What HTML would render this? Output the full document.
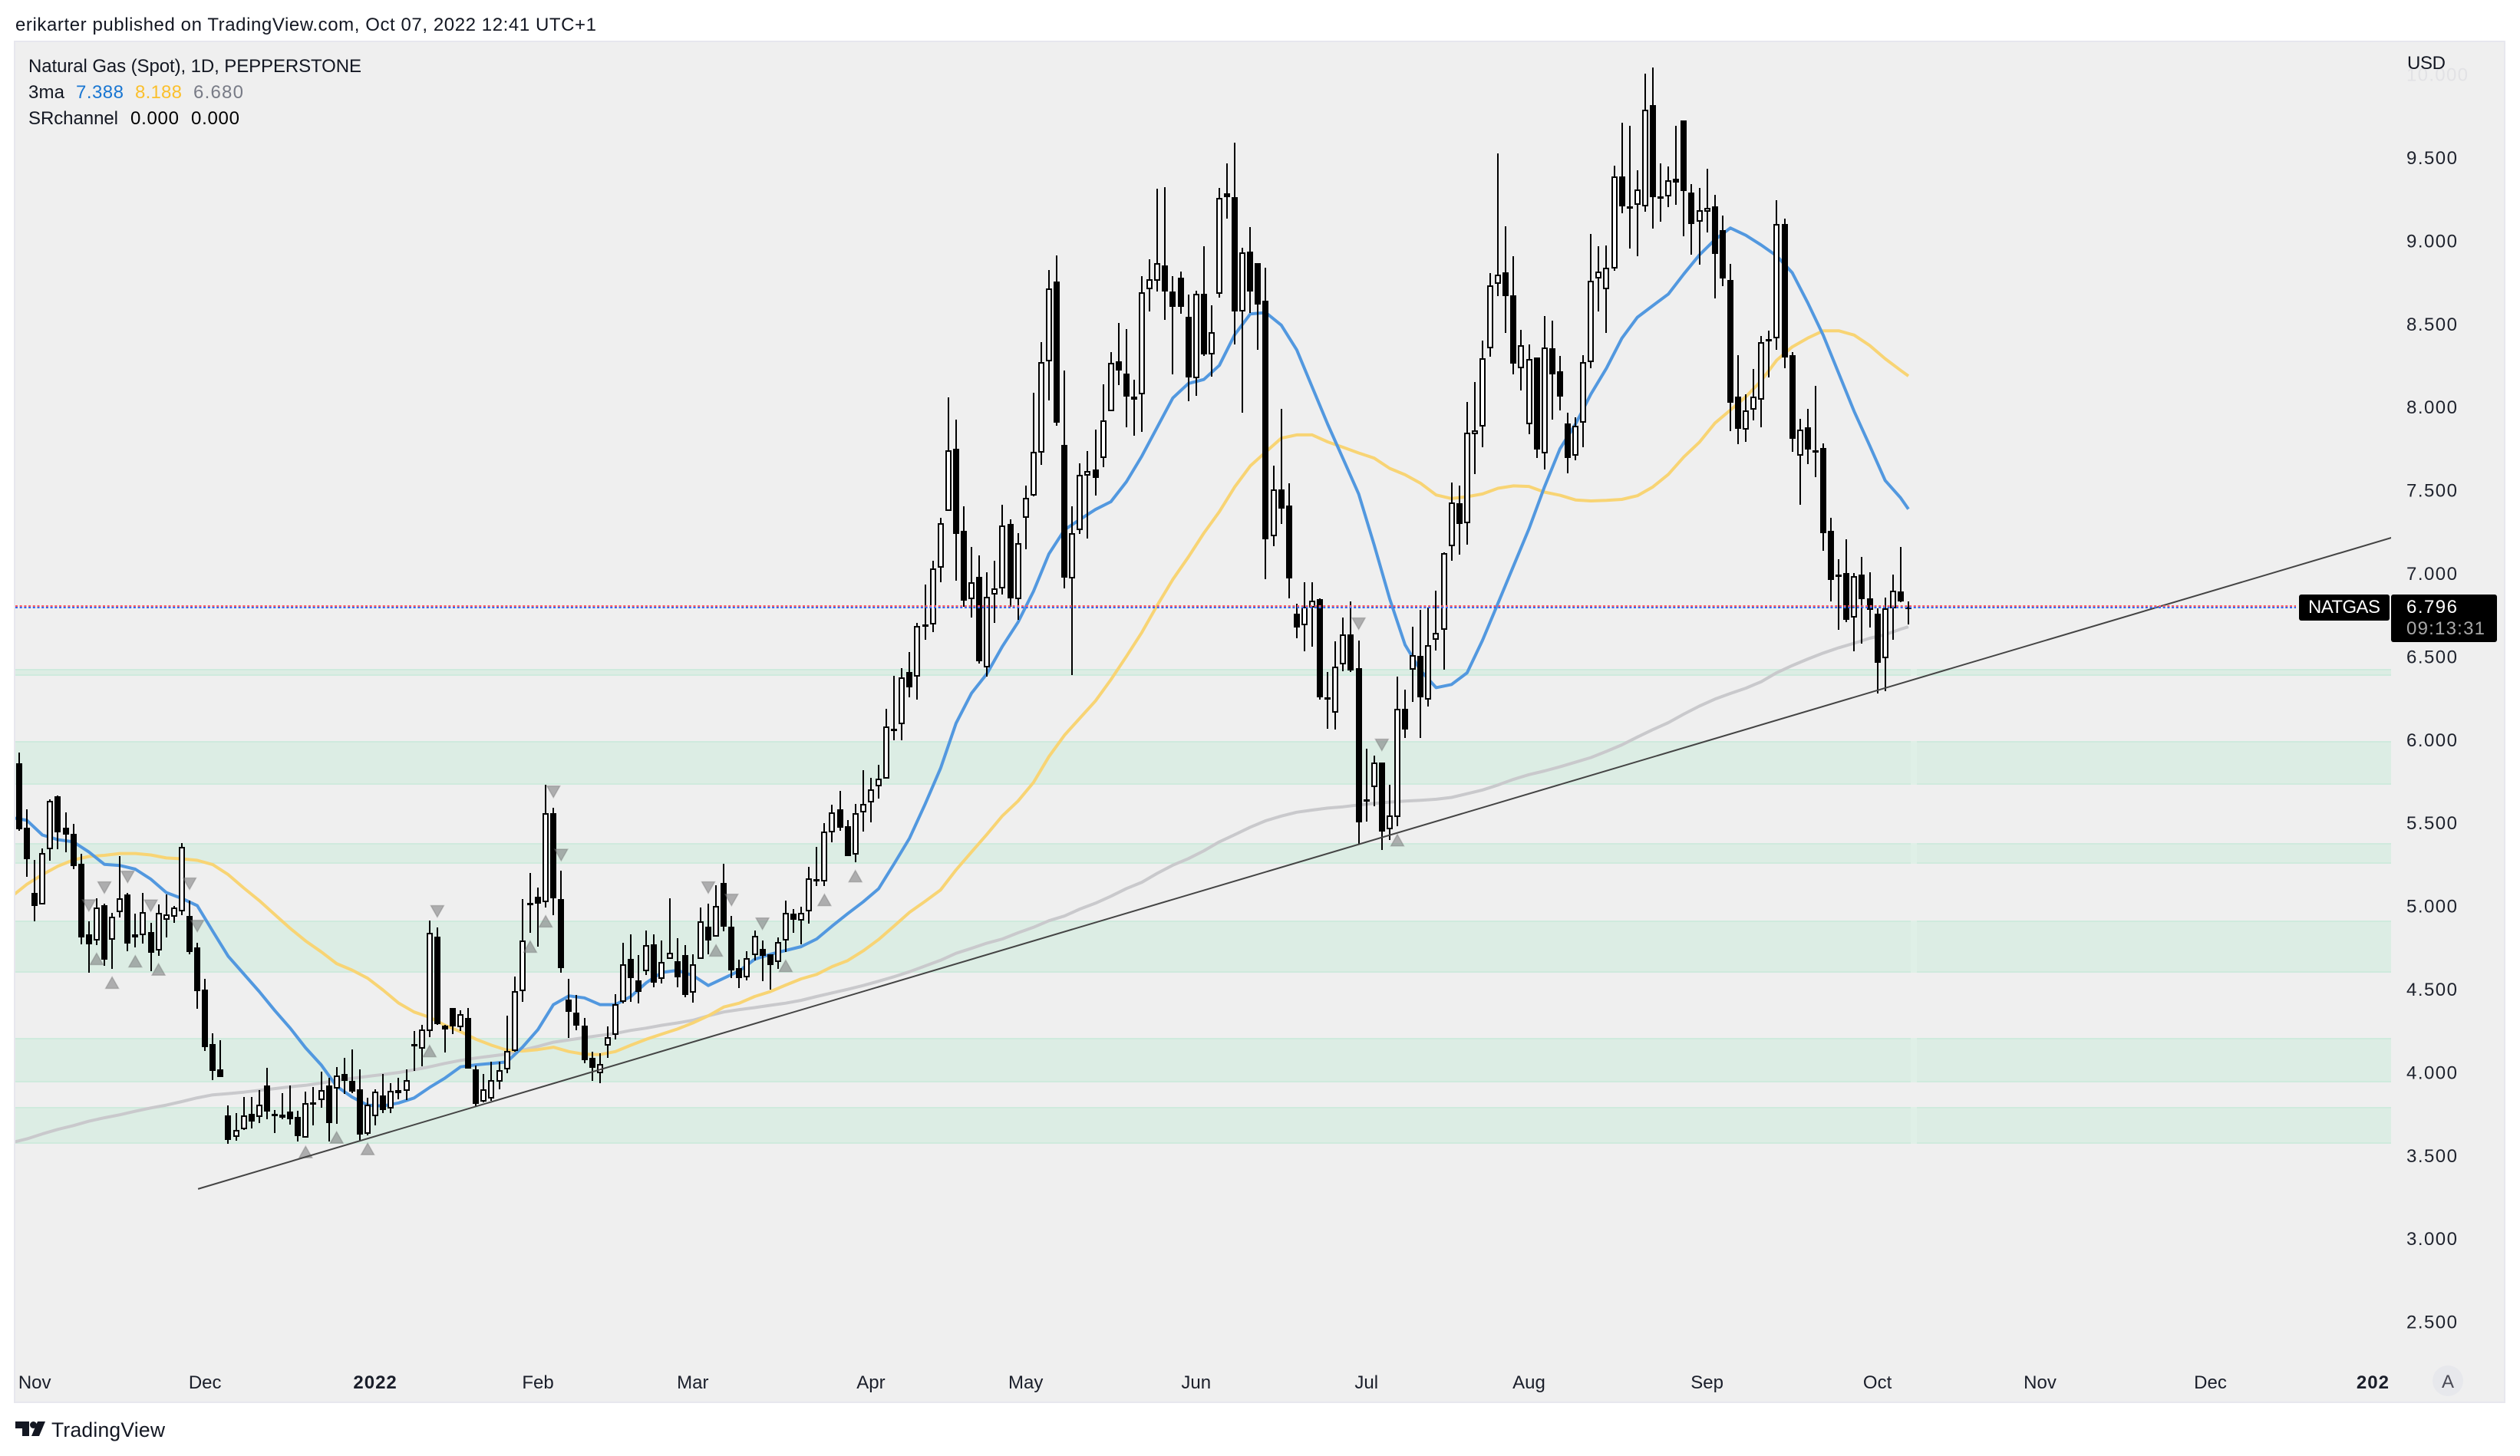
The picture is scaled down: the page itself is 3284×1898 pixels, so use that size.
<!DOCTYPE html>
<html lang="en">
<head>
<meta charset="utf-8">
<title>Natural Gas (Spot), 1D, PEPPERSTONE</title>
<style>
html,body{margin:0;padding:0;background:#fff;}
svg{display:block;font-family:"Liberation Sans",sans-serif;}
</style>
</head>
<body>
<svg id="chart" xmlns="http://www.w3.org/2000/svg" width="3284" height="1898" viewBox="0 0 3284 1898">
  <defs><clipPath id="plot-clip"><rect x="20" y="55" width="3096" height="1771"/></clipPath></defs>
  <rect x="0" y="0" width="3284" height="1898" fill="#ffffff"/>
  <text x="20" y="40" font-size="24" fill="#131722" textLength="757" lengthAdjust="spacing">erikarter published on TradingView.com, Oct 07, 2022 12:41 UTC+1</text>
  <rect x="19" y="54" width="3245" height="1774" fill="#efefef" stroke="#e7e7ee" stroke-width="2"/>
  <g id="zones" clip-path="url(#plot-clip)"></g>
  <g id="mas" clip-path="url(#plot-clip)"></g>
  <g id="candles" clip-path="url(#plot-clip)"></g>
  <g id="markers" clip-path="url(#plot-clip)"></g>
  <g id="overlays" clip-path="url(#plot-clip)"></g>
  <g id="y-axis"></g>
  <g id="x-axis"></g>

  <text x="37" y="94" font-size="24" fill="#131722" textLength="434" lengthAdjust="spacing">Natural Gas (Spot), 1D, PEPPERSTONE</text>
  <text x="37" y="128" font-size="24" fill="#131722" textLength="47" lengthAdjust="spacing">3ma</text>
  <text x="99" y="128" font-size="24" fill="#1976d2" textLength="62" lengthAdjust="spacing">7.388</text>
  <text x="176" y="128" font-size="24" fill="#fbc02d" textLength="61" lengthAdjust="spacing">8.188</text>
  <text x="252" y="128" font-size="24" fill="#787b86" textLength="65" lengthAdjust="spacing">6.680</text>
  <text x="37" y="162" font-size="24" fill="#131722" textLength="117" lengthAdjust="spacing">SRchannel</text>
  <text x="170" y="162" font-size="24" fill="#000000" textLength="63" lengthAdjust="spacing">0.000</text>
  <text x="249" y="162" font-size="24" fill="#000000" textLength="63" lengthAdjust="spacing">0.000</text>

  <text x="3137" y="90" font-size="24" fill="#131722" textLength="50" lengthAdjust="spacing">USD</text>

  <rect x="2996" y="775" width="118" height="34" rx="3" fill="#000000"/>
  <text x="3008" y="799" font-size="24" fill="#ffffff" textLength="94" lengthAdjust="spacing">NATGAS</text>
  <rect x="3116" y="775" width="138" height="62" rx="3" fill="#000000"/>
  <text x="3136" y="799" font-size="24" fill="#ffffff" textLength="66" lengthAdjust="spacing">6.796</text>
  <text x="3136" y="827" font-size="24" fill="#a8a8a8" textLength="102" lengthAdjust="spacing">09:13:31</text>

  <circle cx="3190" cy="1800" r="20" fill="#e7e8ec"/>
  <text x="3190" y="1809" font-size="24" fill="#4a4a55" text-anchor="middle">A</text>

  <g>
    <path d="M20 1853h18v19h-9v-10h-9z" fill="#131722"/>
    <circle cx="43.5" cy="1857.5" r="4.5" fill="#131722"/>
    <polygon points="49,1853 59,1853 51,1872 41,1872" fill="#131722"/>
    <text x="67" y="1873" font-size="26.5" fill="#131722" textLength="148" lengthAdjust="spacing">TradingView</text>
  </g>
</svg>

<script>
const opens = [
5.859,5.470,5.082,5.010,5.343,5.661,5.470,5.435,5.255,4.832,
4.793,5.004,4.800,4.964,5.072,4.830,4.824,4.844,4.733,4.918,
4.937,4.967,4.941,4.752,4.498,4.170,4.018,3.741,3.612,3.658,
3.751,3.734,3.921,3.751,3.730,3.765,3.734,3.608,3.806,3.834,
3.924,3.903,3.990,3.949,3.901,3.631,3.737,3.864,3.783,3.893,
3.889,4.171,4.145,4.251,4.819,4.284,4.390,4.272,4.330,4.020,
3.825,3.843,3.945,4.020,4.131,4.491,5.022,5.057,5.026,5.559,
5.043,4.438,4.358,4.284,4.090,3.997,4.161,4.228,4.426,4.681,
4.556,4.611,4.773,4.565,4.681,4.667,4.704,4.479,4.681,4.879,
4.817,5.142,4.876,4.627,4.572,4.704,4.741,4.710,4.664,4.793,
4.957,4.913,4.969,5.165,5.149,5.446,5.582,5.479,5.310,5.564,
5.626,5.719,5.767,6.069,6.094,6.409,6.380,6.693,6.693,7.035,
7.377,7.751,7.259,6.845,6.981,6.434,6.872,6.911,7.300,6.845,
7.335,7.467,7.727,8.276,8.756,7.772,6.973,7.263,7.589,7.628,
7.696,7.976,8.274,8.204,8.066,8.077,8.711,8.760,8.855,8.694,
8.777,8.546,8.176,8.680,8.318,8.684,9.287,9.265,8.575,8.938,
8.868,8.639,7.225,7.504,7.409,6.761,6.688,6.794,6.847,6.255,
6.165,6.456,6.635,6.431,5.643,5.718,5.866,5.464,5.537,6.188,
6.423,6.506,6.244,6.604,6.663,7.163,7.423,7.303,7.837,7.884,
8.354,8.740,8.810,8.675,8.237,7.898,8.298,7.725,8.357,8.217,
7.904,7.708,7.907,8.273,8.773,8.712,8.834,9.390,9.210,9.215,
9.207,9.819,9.270,9.267,9.372,9.725,9.290,9.115,9.175,9.210,
9.064,8.764,8.066,7.865,7.985,8.045,8.412,8.414,9.104,8.313,
7.708,7.878,7.742,7.755,7.256,6.992,7.002,6.735,6.992,6.850,
6.761,6.491,6.790,6.891,6.800];

const highs = [
5.922,5.582,5.276,5.349,5.643,5.665,5.564,5.493,5.313,4.907,
5.047,5.013,4.960,5.299,5.079,4.955,5.079,4.902,5.012,5.070,
5.001,5.379,5.034,4.782,4.561,4.238,4.193,3.804,3.755,3.855,
3.855,3.896,4.027,3.773,3.875,3.924,3.769,3.884,3.914,4.007,
3.967,4.034,4.090,4.138,4.021,3.847,3.901,3.990,3.938,3.967,
4.018,4.249,4.288,4.916,4.870,4.288,4.390,4.373,4.390,4.044,
3.991,4.064,4.064,4.344,4.576,5.043,5.200,5.110,5.728,5.590,
5.213,4.561,4.466,4.328,4.126,4.115,4.276,4.470,4.782,4.832,
4.704,4.856,4.832,4.793,5.047,4.807,4.764,4.711,4.990,5.013,
5.128,5.255,4.941,4.678,4.731,4.853,4.796,4.711,4.810,5.033,
4.985,4.997,5.237,5.356,5.499,5.608,5.693,5.516,5.617,5.820,
5.770,5.848,6.189,6.384,6.429,6.528,6.705,6.936,7.078,7.335,
8.060,7.928,7.405,7.162,7.109,7.006,7.076,7.412,7.325,7.245,
7.527,8.085,8.390,8.824,8.911,8.221,7.403,7.661,7.735,7.865,
8.138,8.330,8.509,8.468,8.167,8.787,8.892,9.314,9.323,8.787,
8.814,8.678,8.699,8.968,8.612,9.319,9.466,9.591,8.960,9.083,
8.868,8.840,7.647,7.991,7.541,6.817,6.948,6.948,6.850,6.409,
6.593,6.738,6.831,6.599,5.947,5.906,5.866,5.732,6.381,6.300,
6.682,6.780,6.794,6.895,7.130,7.549,7.529,8.032,8.153,8.401,
8.807,9.528,9.086,8.910,8.466,8.379,8.298,8.550,8.519,8.309,
7.968,7.940,8.312,9.044,8.969,8.974,9.452,9.710,9.692,9.425,
10.006,10.043,9.466,9.448,9.692,9.725,9.342,9.321,9.434,9.277,
9.152,8.862,8.315,8.080,8.231,8.428,8.463,9.245,9.134,8.331,
7.930,7.989,8.128,7.782,7.334,7.086,7.204,7.002,7.102,7.010,
6.792,6.857,6.992,7.161,6.834];

const lows = [
5.453,5.176,4.911,5.010,5.273,5.343,5.322,5.223,4.773,4.602,
4.766,4.643,4.623,4.934,4.731,4.752,4.775,4.609,4.703,4.814,
4.902,4.948,4.713,4.385,4.131,3.956,3.975,3.573,3.592,3.654,
3.663,3.698,3.720,3.637,3.721,3.688,3.587,3.607,3.684,3.790,
3.587,3.693,3.870,3.878,3.587,3.622,3.684,3.755,3.758,3.840,
3.834,4.011,4.037,4.214,4.288,4.122,4.231,4.249,4.023,3.799,
3.822,3.829,3.900,3.998,4.126,4.426,4.840,4.757,4.994,4.946,
4.602,4.208,4.256,4.058,3.949,3.938,4.090,4.201,4.417,4.426,
4.417,4.588,4.514,4.537,4.681,4.514,4.454,4.422,4.681,4.711,
4.817,4.849,4.567,4.510,4.554,4.676,4.549,4.500,4.623,4.726,
4.840,4.773,4.897,5.123,5.123,5.382,5.453,5.303,5.264,5.449,
5.502,5.649,5.767,5.997,5.997,6.254,6.240,6.600,6.646,6.950,
7.377,6.955,6.800,6.734,6.460,6.382,6.703,6.872,6.800,6.722,
7.146,7.463,7.655,8.042,7.887,6.913,6.388,7.239,7.212,7.469,
7.638,7.976,8.134,7.879,7.830,7.850,8.577,8.694,8.526,8.196,
8.563,8.036,8.070,8.309,8.186,8.657,9.134,8.379,7.968,8.569,
8.346,6.968,7.166,7.297,6.850,6.613,6.534,6.562,6.244,6.068,
6.062,6.411,6.409,5.370,5.509,5.601,5.340,5.400,5.481,6.012,
6.227,6.012,6.199,6.537,6.423,7.079,7.113,7.172,7.596,7.759,
8.304,8.667,8.449,8.200,8.100,7.837,7.697,7.624,7.926,7.979,
7.605,7.680,7.759,8.234,8.575,8.449,8.822,9.166,8.954,8.908,
9.177,9.074,9.117,9.205,9.217,9.030,8.919,8.857,9.053,8.654,
8.728,7.856,7.779,7.793,7.922,7.878,8.178,8.345,8.236,7.733,
7.415,7.659,7.581,7.135,6.834,6.664,6.708,6.535,6.577,6.675,
6.279,6.295,6.603,6.827,6.695];

const closes = [
5.463,5.282,5.000,5.320,5.635,5.446,5.432,5.243,4.814,4.773,
4.994,4.678,4.937,5.049,4.777,4.812,4.966,4.722,4.959,4.950,
4.990,5.357,4.726,4.491,4.154,4.011,3.975,3.596,3.656,3.743,
3.707,3.808,3.767,3.743,3.748,3.721,3.617,3.817,3.822,3.896,
3.697,3.983,3.949,3.884,3.628,3.808,3.886,3.776,3.891,3.877,
3.956,4.163,4.260,4.840,4.291,4.258,4.276,4.350,4.023,3.811,
3.900,3.953,4.016,4.131,4.491,4.796,5.012,5.017,5.559,5.047,
4.630,4.367,4.284,4.076,4.028,4.053,4.214,4.411,4.651,4.567,
4.484,4.768,4.542,4.666,4.722,4.574,4.466,4.651,4.911,4.796,
5.003,4.879,4.616,4.570,4.689,4.823,4.701,4.648,4.786,4.960,
4.920,4.960,5.169,5.158,5.449,5.566,5.470,5.303,5.560,5.617,
5.703,5.767,6.079,6.067,6.374,6.318,6.683,6.681,7.031,7.305,
7.739,7.237,6.837,6.950,6.475,6.858,6.913,7.290,6.852,7.185,
7.455,7.733,8.272,8.715,7.908,6.977,7.245,7.595,7.618,7.576,
7.922,8.268,8.219,8.066,8.044,8.692,8.771,8.865,8.698,8.606,
8.602,8.180,8.684,8.318,8.451,9.259,9.265,8.575,8.930,8.695,
8.619,7.208,7.504,7.392,6.973,6.674,6.800,6.836,6.255,6.244,
6.439,6.635,6.417,5.503,5.629,5.866,5.447,5.545,6.188,6.062,
6.509,6.258,6.571,6.643,7.124,7.426,7.297,7.848,7.859,8.295,
8.734,8.798,8.667,8.262,8.374,8.290,7.745,8.360,8.200,8.063,
7.697,7.887,8.273,8.762,8.815,8.840,9.388,9.210,9.205,9.311,
9.791,9.263,9.256,9.365,9.351,9.302,9.104,9.185,9.199,8.922,
8.774,8.028,7.872,7.982,8.065,8.393,8.398,9.102,8.301,7.812,
7.867,7.747,7.735,7.245,6.963,6.986,6.724,6.983,6.848,6.784,
6.465,6.789,6.899,6.834,6.796];

const maBars = [
-1,1,3,5,7,9,11,13,15,17,19,21,23,25,27,29,31,33,35,37,39,41,43,45,47,49,51,53,55,57,
59,61,63,65,67,69,71,73,75,77,79,81,83,85,87,89,91,93,95,97,99,101,103,105,107,109,111,113,115,117,
119,121,123,125,127,129,131,133,135,137,139,141,143,145,147,149,151,153,155,157,159,161,163,165,167,169,171,173,175,177,
179,181,183,185,187,189,191,193,195,197,199,201,203,205,207,209,211,213,215,217,219,221,223,225,227,229,231,233,235,237,
239,241,243,244];

const maFast = [
5.533,5.516,5.428,5.400,5.387,5.326,5.252,5.245,5.223,5.163,5.082,5.047,5.003,4.849,4.699,4.593,4.487,4.373,4.267,4.148,4.046,3.917,3.852,3.804,3.799,3.817,3.847,3.910,3.967,4.034,
4.046,4.055,4.064,4.152,4.258,4.408,4.461,4.449,4.408,4.408,4.457,4.540,4.602,4.614,4.584,4.523,4.567,4.611,4.681,4.711,4.734,4.757,4.803,4.881,4.955,5.026,5.105,5.255,5.409,5.613,
5.829,6.100,6.281,6.399,6.563,6.707,6.893,7.119,7.263,7.325,7.385,7.432,7.552,7.706,7.881,8.056,8.143,8.167,8.252,8.437,8.561,8.569,8.494,8.346,8.122,7.898,7.689,7.479,7.172,6.850,
6.571,6.417,6.314,6.333,6.403,6.599,6.822,7.046,7.269,7.521,7.750,7.898,8.080,8.234,8.415,8.541,8.611,8.681,8.801,8.915,9.007,9.078,9.034,8.975,8.910,8.809,8.628,8.433,8.204,7.975,
7.770,7.560,7.455,7.388];

const maMedium = [
5.057,5.132,5.190,5.241,5.278,5.299,5.306,5.317,5.317,5.308,5.290,5.285,5.276,5.250,5.190,5.110,5.034,4.950,4.867,4.791,4.726,4.655,4.616,4.567,4.496,4.418,4.364,4.332,4.284,4.246,
4.200,4.164,4.134,4.129,4.138,4.152,4.126,4.110,4.108,4.126,4.164,4.200,4.231,4.261,4.298,4.341,4.394,4.417,4.457,4.486,4.526,4.563,4.590,4.637,4.673,4.731,4.800,4.881,4.963,5.029,
5.098,5.218,5.326,5.433,5.544,5.632,5.744,5.900,6.028,6.131,6.234,6.362,6.502,6.646,6.810,6.965,7.099,7.243,7.372,7.521,7.647,7.731,7.814,7.834,7.834,7.792,7.759,7.725,7.694,7.633,
7.594,7.543,7.473,7.451,7.462,7.479,7.513,7.527,7.524,7.490,7.471,7.443,7.437,7.440,7.446,7.468,7.521,7.597,7.701,7.789,7.904,7.983,8.063,8.160,8.283,8.363,8.416,8.460,8.460,8.434,
8.372,8.292,8.222,8.188];

const maSlow = [
3.578,3.601,3.631,3.658,3.681,3.707,3.728,3.746,3.767,3.787,3.804,3.825,3.848,3.866,3.873,3.882,3.893,3.903,3.914,3.923,3.937,3.953,3.965,3.977,3.988,4.000,4.016,4.034,4.055,4.073,
4.087,4.099,4.111,4.134,4.157,4.182,4.196,4.210,4.223,4.235,4.253,4.267,4.284,4.298,4.314,4.341,4.364,4.378,4.390,4.404,4.417,4.434,4.457,4.479,4.500,4.523,4.549,4.576,4.606,4.640,
4.675,4.717,4.747,4.778,4.803,4.840,4.873,4.913,4.941,4.983,5.018,5.060,5.106,5.144,5.198,5.247,5.286,5.333,5.387,5.430,5.475,5.514,5.542,5.565,5.578,5.590,5.598,5.609,5.618,5.626,
5.632,5.637,5.643,5.654,5.676,5.699,5.729,5.763,5.791,5.813,5.838,5.866,5.894,5.931,5.970,6.017,6.062,6.104,6.155,6.203,6.245,6.279,6.311,6.350,6.404,6.447,6.486,6.522,6.554,6.581,
6.611,6.633,6.666,6.680];

const zoneTops = [6.427,5.993,5.380,4.916,4.208,3.795];
const zoneBottoms = [6.387,5.732,5.255,4.602,3.940,3.572];

const trendBars = [23.1,306.7];
const trendPrices = [3.300,7.220];

const lastPrice = 6.796;

const downMarkerBars = [9,11,14,17,22,23,54,69,70,89,92,96,173,176];
const downMarkerPrices = [5.004,5.112,5.176,5.003,5.135,4.881,4.969,5.688,5.308,5.112,5.038,4.895,6.699,5.970];
const upMarkerBars = [10,12,15,18,37,41,45,53,66,68,90,99,104,108,178];
const upMarkerPrices = [4.683,4.540,4.669,4.620,3.522,3.610,3.540,4.129,4.757,4.909,4.734,4.641,5.038,5.181,5.397];

const priceTicks = [10,9.5,9,8.5,8,7.5,7,6.5,6,5.5,5,4.5,4,3.5,3,2.5];
const timeTickLabels = ["Nov","Dec","2022","Feb","Mar","Apr","May","Jun","Jul","Aug","Sep","Oct","Nov","Dec","202"];
const timeTickBars = [2,24,46,67,87,110,130,152,174,195,218,240,261,283,304];
const timeTickBold = ["2022","202"];

const SVG_NS = "http://www.w3.org/2000/svg";
const X_BASE = 25, X_STEP = 10.09;
const Y_REF_PRICE = 7, Y_REF_PX = 747.7, Y_SCALE = 216.8;
const PLOT_LEFT = 20, PLOT_RIGHT = 3116;

function xOf(bar) { return X_BASE + bar * X_STEP; }
function yOf(price) { return Y_REF_PX + (Y_REF_PRICE - price) * Y_SCALE; }

function make(tag, attrs, parent) {
  const el = document.createElementNS(SVG_NS, tag);
  for (const k in attrs) el.setAttribute(k, attrs[k]);
  parent.appendChild(el);
  return el;
}

const zonesLayer = document.getElementById("zones");
const masLayer = document.getElementById("mas");
const candlesLayer = document.getElementById("candles");
const markersLayer = document.getElementById("markers");
const overlaysLayer = document.getElementById("overlays");
const yAxisLayer = document.getElementById("y-axis");
const xAxisLayer = document.getElementById("x-axis");

zoneTops.forEach(function (top, idx) {
  const yTop = Math.round(yOf(top));
  const yBot = Math.round(yOf(zoneBottoms[idx]));
  const band = make("rect", {x: PLOT_LEFT, y: yTop, width: PLOT_RIGHT - PLOT_LEFT, height: yBot - yTop, fill: "#dcede4"}, zonesLayer);
  
  
  const edgeTop = make("rect", {x: PLOT_LEFT, y: yTop, width: PLOT_RIGHT - PLOT_LEFT, height: 2, fill: "#cfeadd"}, zonesLayer);
  
  
  const edgeBot = make("rect", {x: PLOT_LEFT, y: yBot - 2, width: PLOT_RIGHT - PLOT_LEFT, height: 2, fill: "#cfeadd"}, zonesLayer);
  
  
  const seam = make("rect", {x: 2490, y: yTop, width: 8, height: yBot - yTop, fill: "#dff0e7"}, zonesLayer);
  
  
});

function drawMa(values, color) {
  const pts = values.map(function (v, k) {
    return xOf(maBars[k]).toFixed(1) + "," + yOf(v).toFixed(1);
  }).join(" ");
  return make("polyline", {points: pts, fill: "none", stroke: color, "stroke-width": 4, "stroke-linejoin": "round"}, masLayer);
}
const slowLine = drawMa(maSlow, "#c9c9cc");


const mediumLine = drawMa(maMedium, "#f8d474");


const fastLine = drawMa(maFast, "#5298df");



opens.forEach(function (open, i) {
  const close = closes[i];
  const cx = Math.round(xOf(i));
  const yHigh = Math.round(yOf(highs[i]));
  const yLow = Math.round(yOf(lows[i]));
  const yTop = Math.round(yOf(Math.max(open, close)));
  const yBot = Math.round(yOf(Math.min(open, close)));
  const h = Math.max(3, yBot - yTop);
  const g = make("g", {}, candlesLayer);
  
  
  const wick = make("rect", {x: cx - 1, y: yHigh, width: 2, height: Math.max(1, yLow - yHigh), fill: "#000000"}, g);
  
  
  const body = make("rect", {x: cx - 4, y: yTop, width: 8, height: h, fill: "#000000"}, g);
  
  
  if (close > open && h > 4) {
    const inner = make("rect", {x: cx - 2, y: yTop + 2, width: 4, height: h - 4, fill: "#ffffff"}, g);
    
    
  }
});

function triangle(bar, price, up) {
  const cx = xOf(bar), cy = yOf(price);
  const pts = up
    ? [[cx, cy - 7.5], [cx + 8.5, cy + 7.5], [cx - 8.5, cy + 7.5]]
    : [[cx - 8.5, cy - 7.5], [cx + 8.5, cy - 7.5], [cx, cy + 7.5]];
  return make("polygon", {
    points: pts.map(function (p) { return p[0].toFixed(1) + "," + p[1].toFixed(1); }).join(" "),
    fill: "rgba(118,118,120,0.55)", stroke: "rgba(110,110,110,0.35)", "stroke-width": 1.5
  }, markersLayer);
}
downMarkerBars.forEach(function (bar, k) {
  const tri = triangle(bar, downMarkerPrices[k], false);
  
  
});
upMarkerBars.forEach(function (bar, k) {
  const tri = triangle(bar, upMarkerPrices[k], true);
  
  
});

const trend = make("line", {
  x1: xOf(trendBars[0]), y1: yOf(trendPrices[0]), x2: xOf(trendBars[1]), y2: yOf(trendPrices[1]),
  stroke: "#444444", "stroke-width": 2
}, overlaysLayer);



const priceLineY = Math.round(yOf(lastPrice));
const redLine = make("line", {
  x1: PLOT_LEFT, y1: priceLineY - 2, x2: 2992, y2: priceLineY - 2,
  stroke: "#fb5a62", "stroke-width": 2, "stroke-dasharray": "3 2.7"
}, overlaysLayer);


const blueLine = make("line", {
  x1: PLOT_LEFT, y1: priceLineY, x2: 2992, y2: priceLineY,
  stroke: "#2f68f5", "stroke-width": 2, "stroke-dasharray": "3 2.7"
}, overlaysLayer);



priceTicks.forEach(function (value) {
  const label = value.toFixed(3);
  const faint = value >= 10;
  const t = make("text", {
    x: 3136, y: (yOf(value) + 8.3).toFixed(1), "font-size": 24,
    fill: faint ? "#e2e2e5" : "#1e222d",
    textLength: faint ? 80 : 66, lengthAdjust: "spacing"
  }, yAxisLayer);
  t.textContent = label;
  
  
});

timeTickLabels.forEach(function (label, k) {
  const bold = timeTickBold.indexOf(label) !== -1;
  const t = make("text", {
    x: xOf(timeTickBars[k]).toFixed(1), y: 1810, "font-size": 24,
    "text-anchor": "middle", fill: "#1a1e2a",
    "font-weight": bold ? "700" : "400",
    "letter-spacing": bold ? "1" : "0"
  }, xAxisLayer);
  t.textContent = label;
  
  
});
</script>
</body>
</html>
